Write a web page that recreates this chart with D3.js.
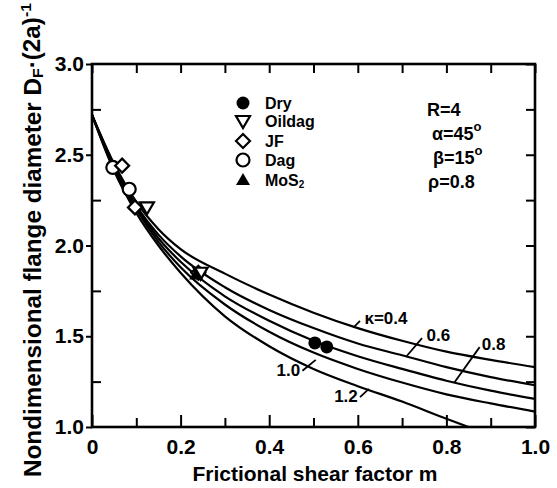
<!DOCTYPE html>
<html><head><meta charset="utf-8">
<script src="https://cdn.jsdelivr.net/npm/d3@7"></script>
<style>
html,body{margin:0;padding:0;background:#fff;}
text{font-family:"Liberation Sans",Arial,sans-serif;fill:#000;}
</style></head>
<body><svg id="c" width="557" height="488"></svg>
<script>
// ---- data ----
const xMajorTicks = [0, 0.2, 0.4, 0.6, 0.8, 1.0];
const xMinorTicks = [0.1, 0.3, 0.5, 0.7, 0.9];
const yMajorTicks = [1.0, 1.5, 2.0, 2.5, 3.0];
const yMinorTicks = [1.25, 1.75, 2.25, 2.75];
const kappaLabels = ["κ=0.4", "0.6", "0.8", "1.0", "1.2"];
const curveK04 = [[0,2.72],[0.05,2.45],[0.1,2.24],[0.15,2.09],[0.2,1.98],[0.3,1.845],[0.4,1.73],[0.5,1.63],[0.6,1.545],[0.7,1.475],[0.8,1.415],[0.9,1.37],[1.0,1.33]];
const curveK06 = [[0,2.72],[0.05,2.44],[0.1,2.22],[0.15,2.06],[0.2,1.94],[0.3,1.77],[0.4,1.645],[0.5,1.545],[0.6,1.46],[0.7,1.395],[0.8,1.33],[0.9,1.275],[1.0,1.23]];
const curveK08 = [[0,2.72],[0.05,2.43],[0.1,2.21],[0.15,2.04],[0.2,1.91],[0.3,1.72],[0.4,1.585],[0.5,1.475],[0.6,1.39],[0.7,1.32],[0.8,1.255],[0.9,1.2],[1.0,1.155]];
const curveK10 = [[0,2.72],[0.05,2.42],[0.1,2.2],[0.15,2.02],[0.2,1.88],[0.3,1.675],[0.4,1.525],[0.5,1.41],[0.6,1.32],[0.7,1.245],[0.8,1.18],[0.9,1.13],[1.0,1.085]];
const curveK12 = [[0,2.72],[0.05,2.41],[0.1,2.18],[0.15,2.0],[0.2,1.85],[0.3,1.61],[0.4,1.445],[0.5,1.32],[0.6,1.225],[0.7,1.14],[0.8,1.045],[0.85,1.0]];
const dryPts = [[0.503,1.463],[0.53,1.441]];
const oildagPts = [[0.124,2.21],[0.245,1.85]];
const jfPts = [[0.068,2.44],[0.097,2.21],[0.24,1.85]];
const dagPts = [[0.047,2.43],[0.084,2.31]];
const mos2Pts = [[0.235,1.84]];
const legendNames = ["Dry", "Oildag", "JF", "Dag", "MoS"];
const paramLabels = ["R=4", "α=45", "β=15", "ρ=0.8"];

// ---- layout ----
const svg = d3.select("#c");
const x = d3.scaleLinear().domain([0,1]).range([92,535]);
const y = d3.scaleLinear().domain([1,3]).range([427,64]);
const FONT = 21;

// clip
svg.append("clipPath").attr("id","clip").append("rect")
  .attr("x",92).attr("y",64).attr("width",443).attr("height",363);

// curves
const line = d3.line().x(d=>x(d[0])).y(d=>y(d[1])).curve(d3.curveMonotoneX);
const curves = [curveK04, curveK06, curveK08, curveK10, curveK12];
svg.append("g").attr("clip-path","url(#clip)").selectAll("path").data(curves).join("path")
  .attr("d", line).attr("fill","none").attr("stroke","#000").attr("stroke-width",2.2);

// curve label leader lines (data coords of start on curve -> end near label)
const leaders = [
  {from:[0.59,1.548], to:[0.605,1.585], lx:[0.615,1.57], anchor:"start"},
  {from:[0.71,1.39], to:[0.745,1.49], lx:[0.755,1.475], anchor:"start"},
  {from:[0.818,1.245], to:[0.875,1.44], lx:[0.88,1.425], anchor:"start"},
  {from:[0.505,1.37], to:[0.475,1.31], lx:[0.47,1.28], anchor:"end"},
  {from:[0.625,1.21], to:[0.605,1.165], lx:[0.6,1.14], anchor:"end"}
];
const lg = svg.append("g");
leaders.forEach((L,i)=>{
  lg.append("line").attr("x1",x(L.from[0])).attr("y1",y(L.from[1]))
    .attr("x2",x(L.to[0])).attr("y2",y(L.to[1])).attr("stroke","#000").attr("stroke-width",1.8);
  lg.append("text").attr("x",x(L.lx[0])).attr("y",y(L.lx[1])).attr("text-anchor",L.anchor)
    .attr("font-size",17).attr("font-weight","bold").text(kappaLabels[i]);
});

// markers
function mark(g, type, cx, cy){
  const s = 7;
  if(type==="dry") g.append("circle").attr("cx",cx).attr("cy",cy).attr("r",6.5).attr("fill","#000");
  else if(type==="dag") g.append("circle").attr("cx",cx).attr("cy",cy).attr("r",6.5).attr("fill","#fff").attr("stroke","#000").attr("stroke-width",2.2);
  else if(type==="jf") g.append("path").attr("d",`M${cx},${cy-s}L${cx+s},${cy}L${cx},${cy+s}L${cx-s},${cy}Z`).attr("fill","#fff").attr("stroke","#000").attr("stroke-width",2.2);
  else if(type==="oildag") g.append("path").attr("d",`M${cx-s},${cy-5}L${cx+s},${cy-5}L${cx},${cy+7}Z`).attr("fill","#fff").attr("stroke","#000").attr("stroke-width",2.2);
  else if(type==="mos2") g.append("path").attr("d",`M${cx-s},${cy+5}L${cx+s},${cy+5}L${cx},${cy-7}Z`).attr("fill","#000");
}
const mg = svg.append("g");
dagPts.forEach(p=>mark(mg,"dag",x(p[0]),y(p[1])));
jfPts.forEach(p=>mark(mg,"jf",x(p[0]),y(p[1])));
oildagPts.forEach(p=>mark(mg,"oildag",x(p[0]),y(p[1])));
mos2Pts.forEach(p=>mark(mg,"mos2",x(p[0]),y(p[1])));
dryPts.forEach(p=>mark(mg,"dry",x(p[0]),y(p[1])));

// legend
const legTypes = ["dry","oildag","jf","dag","mos2"];
const legY = [103,121,141,160,180];
const leg = svg.append("g");
legTypes.forEach((t,i)=>{
  mark(leg,t,243,legY[i]);
  const tx = leg.append("text").attr("x",265).attr("y",legY[i]).attr("dy","0.35em")
    .attr("font-size",16).attr("font-weight","bold").text(legendNames[i]);
  if(t==="mos2") tx.append("tspan").attr("font-size",10).attr("dy","0.2em").text("2");
});

// params
const pY = [110,134,158,182];
const pX = [427,432,433,428];
paramLabels.forEach((p,i)=>{
  const t = svg.append("text").attr("x",pX[i]).attr("y",pY[i]).attr("dy","0.35em")
    .attr("font-size",18).attr("font-weight","bold").text(p);
  if(i===1||i===2) t.append("tspan").attr("font-size",13).attr("dy","-0.7em").text("o");
});

// axes
function styleAxis(g){ g.select(".domain").remove(); g.selectAll("line").attr("stroke","#000").attr("stroke-width",2); }
svg.append("g").attr("transform","translate(0,427)")
  .call(d3.axisBottom(x).tickValues(xMajorTicks).tickSizeInner(-12).tickSizeOuter(0).tickPadding(12)
    .tickFormat(d=> d===0?"0":d3.format(".1f")(d)))
  .call(styleAxis).call(g=>g.selectAll("text").attr("font-size",FONT).attr("font-weight","bold").attr("font-family","Liberation Sans, Arial, sans-serif"));
svg.append("g").attr("transform","translate(0,427)")
  .call(d3.axisBottom(x).tickValues(xMinorTicks).tickSizeInner(-9).tickSizeOuter(0).tickFormat(""))
  .call(styleAxis);
svg.append("g").attr("transform","translate(0,64)")
  .call(d3.axisTop(x).tickValues(xMajorTicks.concat(xMinorTicks)).tickSizeInner(-9).tickSizeOuter(0).tickFormat(""))
  .call(styleAxis);
svg.append("g").attr("transform","translate(92,0)")
  .call(d3.axisLeft(y).tickValues(yMajorTicks).tickSizeInner(6).tickSizeOuter(0).tickPadding(2).tickFormat(d3.format(".1f")))
  .call(styleAxis).call(g=>g.selectAll("text").attr("font-size",FONT).attr("font-weight","bold").attr("font-family","Liberation Sans, Arial, sans-serif"));
svg.append("g").attr("transform","translate(92,0)")
  .call(d3.axisLeft(y).tickValues(yMinorTicks).tickSizeInner(-9).tickSizeOuter(0).tickFormat(""))
  .call(styleAxis);
svg.append("g").attr("transform","translate(535,0)")
  .call(d3.axisRight(y).tickValues(yMajorTicks.concat(yMinorTicks)).tickSizeInner(-9).tickSizeOuter(0).tickFormat(""))
  .call(styleAxis);

// frame
svg.append("rect").attr("x",92).attr("y",64).attr("width",443).attr("height",363)
  .attr("fill","none").attr("stroke","#000").attr("stroke-width",2.6);

// axis titles
svg.append("text").attr("x",315).attr("y",481).attr("text-anchor","middle")
  .attr("font-size",21).attr("font-weight","bold").text("Frictional shear factor  m");
const yt = svg.append("text").attr("transform","translate(41,240) rotate(-90)").attr("text-anchor","middle")
  .attr("font-size",23).attr("font-weight","bold").attr("textLength",474).attr("lengthAdjust","spacingAndGlyphs");
yt.append("tspan").text("Nondimensional flange diameter D");
yt.append("tspan").attr("font-size",15).attr("dy","0.15em").text("F");
yt.append("tspan").attr("dy","-0.15em").text("·(2a)");
yt.append("tspan").attr("font-size",15).attr("dy","-0.6em").text("-1");
</script></body></html>
